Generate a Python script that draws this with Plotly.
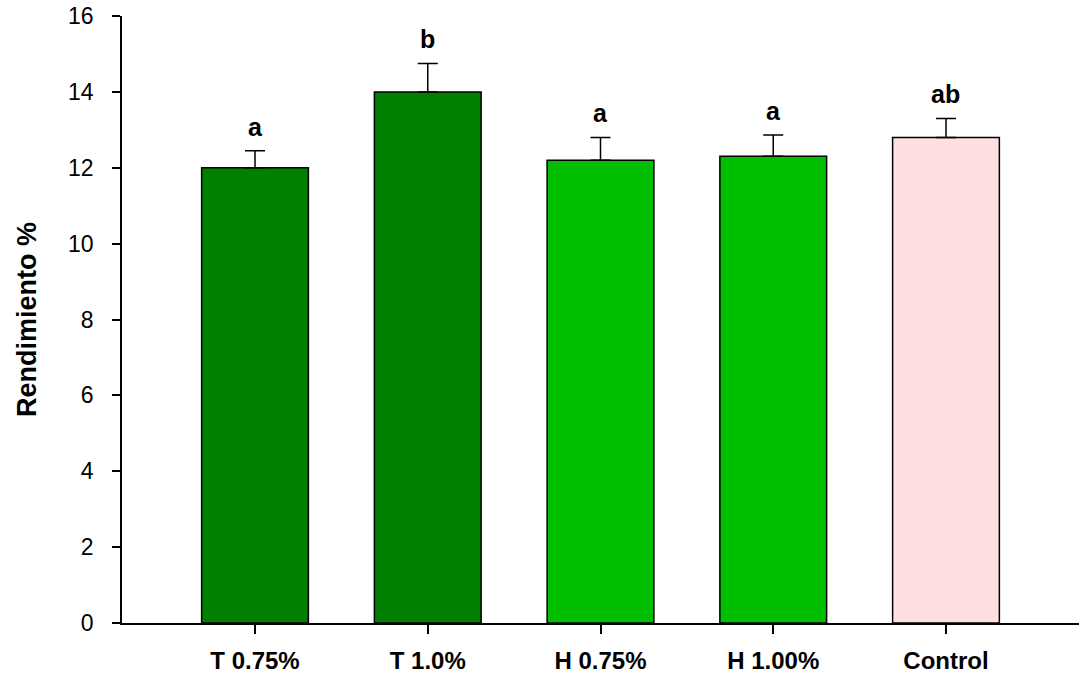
import plotly.graph_objects as go

# Data
categories = ["T 0.75%", "T 1.0%", "H 0.75%", "H 1.00%", "Control"]
means = [12.0, 14.0, 12.2, 12.3, 12.8]
errors = [0.45, 0.75, 0.6, 0.56, 0.5]
letters = ["a", "b", "a", "a", "ab"]
colors = ["#007F00", "#007F00", "#00BF00", "#00BF00", "#FFDFE1"]

FONT = "Arial, Liberation Sans, sans-serif"

fig = go.Figure()
fig.add_trace(go.Bar(
    x=categories,
    y=means,
    width=0.618,
    marker=dict(color=colors, line=dict(color="black", width=1.5)),
    error_y=dict(type="data", array=errors, symmetric=False, arrayminus=[0] * len(errors),
                 color="black", thickness=1.5, width=10),
    showlegend=False,
))

# Significance letters above the error bars
for cat, m, e, t in zip(categories, means, errors, letters):
    fig.add_annotation(
        x=cat, y=m + e, text=t, showarrow=False,
        yanchor="bottom", yshift=8,
        font=dict(family=FONT, size=25, color="black", weight="bold"),
    )

fig.update_layout(
    width=1081, height=675,
    margin=dict(l=122, r=2, t=16, b=52),
    plot_bgcolor="white", paper_bgcolor="white",
    bargap=0.382,
)
fig.update_xaxes(
    range=[-0.77, 4.77], automargin=False,
    showline=True, linecolor="black", linewidth=1.5,
    ticks="outside", ticklen=9, tickwidth=1.5, tickcolor="black",
    ticklabelstandoff=6,
    tickfont=dict(family=FONT, size=24, color="black", weight="bold"),
    showgrid=False, zeroline=False,
)
fig.update_yaxes(
    range=[0, 16], tickvals=[0, 2, 4, 6, 8, 10, 12, 14, 16], automargin=False,
    showline=True, linecolor="black", linewidth=1.5,
    ticks="outside", ticklen=8, tickwidth=1.5, tickcolor="black",
    ticklabelstandoff=14,
    tickfont=dict(family=FONT, size=23, color="black"),
    showgrid=False, zeroline=False,
    title=dict(text="Rendimiento %", standoff=24,
               font=dict(family=FONT, size=27, color="black", weight="bold")),
)

fig.write_html("out.html")
